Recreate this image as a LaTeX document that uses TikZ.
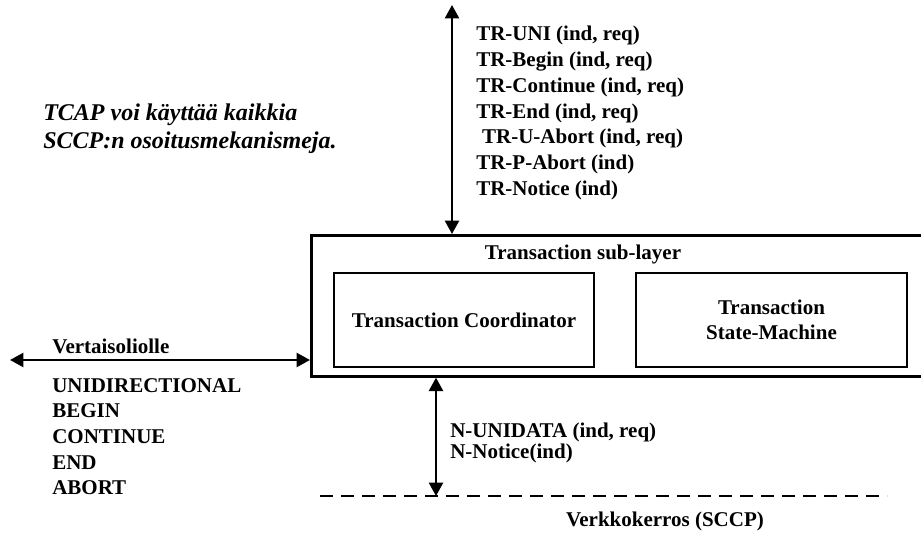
\documentclass[tikz,border=0pt]{standalone}
\usepackage{fontspec}
\setmainfont{Liberation Serif}
\usetikzlibrary{arrows.meta, positioning}

\tikzset{
  lbl/.style={font=\fontsize{15.75pt}{19.3pt}\selectfont\bfseries, inner sep=0pt, anchor=base west},
  note/.style={font=\fontsize{18pt}{21pt}\selectfont\bfseries\itshape, inner sep=0pt, anchor=base west},
  layerbox/.style={draw, line width=2pt, inner sep=0pt, anchor=north west},
  unitbox/.style={draw, line width=2pt, inner sep=0pt, align=center,
    font=\fontsize{15.75pt}{18.8pt}\selectfont\bfseries, minimum height=70.5pt},
  dbl/.style={line width=1.7pt, {Triangle[length=10pt,width=10.5pt]}-{Triangle[length=10pt,width=10.5pt]}},
  netline/.style={line width=2.2pt, dash pattern=on 9.75pt off 6pt},
}

\begin{document}
\begin{tikzpicture}[x=0.75pt, y=-0.75pt]
  \useasboundingbox (0,0) rectangle (921,535);
  \clip (0,0) rectangle (921,535);

  % huomautus
  \node[note] (note1) at (43,121) {TCAP voi käyttää kaikkia};
  \node[note] (note2) at (43,148) {SCCP:n osoitusmekanismeja.};

  % transaction sub-layer
  \node[layerbox, minimum width=480pt, minimum height=105.75pt] (layer) at (310,234) {};
  \node[lbl, anchor=base] (layername) at (583,259) {Transaction sub-layer};
  \node[unitbox, minimum width=195pt] (coord) at (464,320) {Transaction Coordinator};
  \node[unitbox, minimum width=203.25pt] (tsm) at (771.5,320) {Transaction\\State-Machine};

  % TR-primitiivit
  \coordinate (userEnd) at (452,5);
  \draw[dbl] (userEnd) -- (userEnd |- layer.north);
  \foreach \t [count=\i from 0] in {{TR-UNI (ind, req)}, {TR-Begin (ind, req)},
      {TR-Continue (ind, req)}, {TR-End (ind, req)}, {\hspace{0.28em}TR-U-Abort (ind, req)},
      {TR-P-Abort (ind)}, {TR-Notice (ind)}}
    \node[lbl] (tr\i) at (476,41+25.7*\i) {\t};

  % vertaisolio
  \coordinate (peerEnd) at (10,360);
  \draw[dbl] (peerEnd) -- (peerEnd -| layer.west);
  \node[lbl] (peer) at (52,353) {Vertaisoliolle};
  \foreach \t [count=\i from 0] in {UNIDIRECTIONAL, BEGIN, CONTINUE, END, ABORT}
    \node[lbl] (msg\i) at (52,392+25.7*\i) {\t};

  % verkkokerros
  \coordinate (netL) at (320,496);
  \coordinate (netR) at (887,496);
  \draw[netline] (netL) -- (netR);
  \coordinate (netEnd) at (436,496);
  \draw[dbl] (netEnd |- layer.south) -- (netEnd);
  \node[lbl] (nuni) at (450,437) {N-UNIDATA (ind, req)};
  \node[lbl] (nnot) at (450,458) {N-Notice(ind)};
  \node[lbl, anchor=base] (net) at (665,526) {Verkkokerros (SCCP)};
\end{tikzpicture}
\end{document}
